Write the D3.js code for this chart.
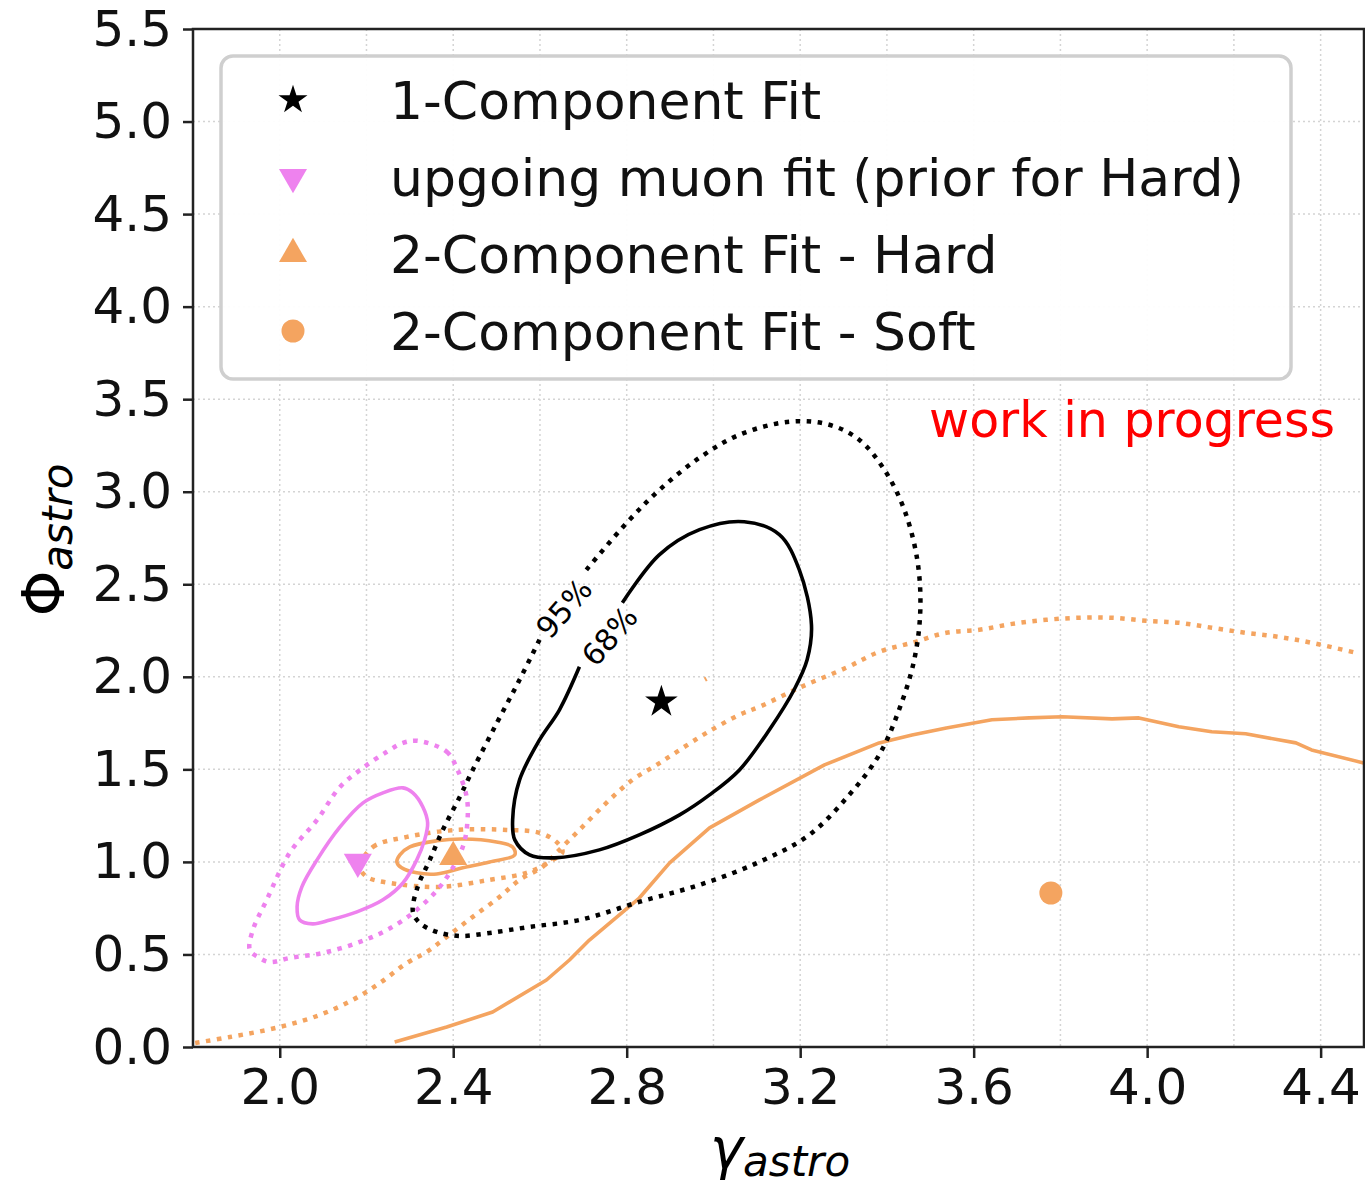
<!DOCTYPE html>
<html>
<head>
<meta charset="utf-8">
<script src="https://cdn.jsdelivr.net/npm/d3@7"></script>
<style>
  body { margin: 0; background: #fff; }
  text { font-family: "DejaVu Sans", sans-serif; }
</style>
</head>
<body>
<div id="chart-area"></div>
<script>
// ---- data ----
var xTicks = [2.0, 2.4, 2.8, 3.2, 3.6, 4.0, 4.4];
var yTicks = [0.0, 0.5, 1.0, 1.5, 2.0, 2.5, 3.0, 3.5, 4.0, 4.5, 5.0, 5.5];
var xGrid = [2.0, 2.2, 2.4, 2.6, 2.8, 3.0, 3.2, 3.4, 3.6, 3.8, 4.0, 4.2, 4.4];

// best fit points
var oneCompFit = [2.88, 1.865];
var upgoingFit = [2.18, 1.0];
var hardFit = [2.40, 1.027];
var softFit = [3.778, 0.832];

// 1-component contours (68% has a gap for its label, 95% too)
var one68 = [[2.790,2.40],[2.875,2.659],[2.968,2.795],[3.071,2.838],[3.152,2.768],[3.198,2.578],[3.226,2.281],
  [3.216,2.092],[3.186,1.930],[3.129,1.714],[3.060,1.497],[2.991,1.362],[2.922,1.254],[2.829,1.146],[2.737,1.065],
  [2.634,1.022],[2.576,1.038],[2.542,1.119],[2.537,1.227],[2.553,1.443],[2.599,1.659],[2.645,1.822],[2.691,2.054]];
var one95 = [[2.707,2.578],[2.800,2.832],[2.876,3.011],[2.968,3.184],[3.060,3.308],[3.175,3.378],[3.267,3.362],
  [3.336,3.281],[3.394,3.119],[3.440,2.903],[3.470,2.632],[3.477,2.362],[3.463,2.092],[3.428,1.822],[3.382,1.578],
  [3.313,1.362],[3.221,1.146],[3.106,1.0],[2.968,0.876],[2.829,0.784],[2.691,0.686],[2.576,0.649],[2.484,0.616],
  [2.415,0.600],[2.362,0.622],[2.323,0.670],[2.307,0.730],[2.318,0.865],[2.346,1.011],[2.376,1.173],[2.415,1.351],
  [2.445,1.497],[2.502,1.757],[2.553,1.984],[2.599,2.200]];

// upgoing muon contours
var up68 = [[2.284,1.400],[2.307,1.373],[2.330,1.297],[2.341,1.211],[2.334,1.119],[2.316,1.011],[2.284,0.886],
  [2.238,0.795],[2.178,0.730],[2.116,0.686],[2.076,0.665],[2.046,0.686],[2.040,0.757],[2.051,0.865],[2.086,1.011],
  [2.139,1.189],[2.192,1.319],[2.238,1.373]];
var up95 = [[2.318,1.654],[2.385,1.595],[2.410,1.497],[2.431,1.351],[2.433,1.227],[2.422,1.081],[2.376,0.886],
  [2.316,0.741],[2.247,0.632],[2.178,0.562],[2.099,0.508],[2.023,0.481],[1.977,0.459],[1.950,0.486],[1.931,0.524],
  [1.938,0.632],[1.970,0.795],[2.023,1.049],[2.086,1.227],[2.139,1.405],[2.192,1.508],[2.247,1.595],[2.284,1.643]];

// 2-component hard contours
var hard68 = [[2.277,1.038],[2.300,1.081],[2.362,1.114],[2.422,1.124],[2.500,1.108],[2.537,1.081],[2.542,1.038],
  [2.484,1.0],[2.422,0.968],[2.362,0.935],[2.316,0.941],[2.281,0.968],[2.270,1.0]];
var hard95 = [[2.185,0.973],[2.215,1.081],[2.293,1.135],[2.408,1.173],[2.523,1.173],[2.599,1.157],[2.638,1.108],
  [2.652,1.054],[2.622,1.0],[2.569,0.941],[2.484,0.903],[2.369,0.865],[2.254,0.886],[2.201,0.919]];

// 2-component soft contours (open, leave the frame)
var soft68 = [[2.265,0.027],[2.385,0.108],[2.491,0.189],[2.615,0.362],[2.668,0.470],[2.714,0.578],[2.829,0.805],
  [2.899,0.995],[2.991,1.184],[3.106,1.335],[3.256,1.524],[3.382,1.643],[3.458,1.686],[3.537,1.724],[3.642,1.768],
  [3.728,1.778],[3.804,1.784],[3.919,1.773],[3.981,1.778],[4.073,1.730],[4.149,1.703],[4.227,1.692],[4.343,1.643],
  [4.379,1.605],[4.499,1.535]];
var soft95 = [[1.805,0.022],[1.885,0.054],[2.000,0.108],[2.092,0.173],[2.168,0.254],[2.231,0.346],[2.293,0.454],
  [2.339,0.514],[2.385,0.595],[2.445,0.703],[2.507,0.811],[2.553,0.903],[2.606,0.973],[2.638,1.049],[2.691,1.173],
  [2.753,1.319],[2.813,1.443],[2.869,1.524],[2.922,1.605],[2.984,1.697],[3.060,1.795],[3.106,1.838],[3.198,1.941],
  [3.306,2.049],[3.382,2.135],[3.458,2.184],[3.537,2.238],[3.613,2.254],[3.689,2.286],[3.767,2.308],[3.843,2.319],
  [3.919,2.319],[3.997,2.303],[4.073,2.292],[4.149,2.265],[4.227,2.238],[4.303,2.216],[4.379,2.184],[4.481,2.130]];
var soft95Bit = [[2.980,1.985],[2.984,1.990]];

var legendLabels = ["1-Component Fit", "upgoing muon fit (prior for Hard)", "2-Component Fit - Hard", "2-Component Fit - Soft"];

// ---- layout ----
var black = "#000", violet = "#ee82ee", sandy = "#f4a460";
var margin = {left: 193, right: 1, top: 29, bottom: 142};
var W = 1365, H = 1189;
var width = W - margin.left - margin.right;
var height = H - margin.top - margin.bottom;

var svg = d3.select("#chart-area").append("svg")
    .attr("width", W)
    .attr("height", H);

var g = svg.append("g")
    .attr("transform", "translate(" + margin.left + "," + margin.top + ")");

var x = d3.scaleLinear().domain([1.8, 4.5]).range([0, width]);
var y = d3.scaleLinear().domain([0, 5.5]).range([height, 0]);

g.append("defs").append("clipPath").attr("id", "clip")
    .append("rect").attr("width", width).attr("height", height);

// grid
g.append("g").selectAll("line").data(xGrid).enter().append("line")
    .attr("x1", function(d) { return x(d); }).attr("x2", function(d) { return x(d); })
    .attr("y1", 0).attr("y2", height)
    .attr("stroke", "#d4d4d4").attr("stroke-width", 1.5).attr("stroke-dasharray", "2,3");
g.append("g").selectAll("line").data(yTicks).enter().append("line")
    .attr("y1", function(d) { return y(d); }).attr("y2", function(d) { return y(d); })
    .attr("x1", 0).attr("x2", width)
    .attr("stroke", "#d4d4d4").attr("stroke-width", 1.5).attr("stroke-dasharray", "2,3");

// contours
var line = d3.line().x(function(d) { return x(d[0]); }).y(function(d) { return y(d[1]); })
    .curve(d3.curveCatmullRom.alpha(0.5));
var lineClosed = d3.line().x(function(d) { return x(d[0]); }).y(function(d) { return y(d[1]); })
    .curve(d3.curveCatmullRomClosed.alpha(0.5));

var plot = g.append("g").attr("clip-path", "url(#clip)");

function contour(data, gen, colour, dotted) {
    plot.append("path")
        .attr("d", gen(data))
        .attr("fill", "none")
        .attr("stroke", colour)
        .attr("stroke-width", dotted ? 4.5 : 3.6)
        .attr("stroke-dasharray", dotted ? "4.5,6.5" : null)
        .attr("stroke-linejoin", "round");
}

contour(soft95, line, sandy, true);
contour(soft95Bit, line, sandy, true);
contour(soft68, d3.line().x(function(d) { return x(d[0]); }).y(function(d) { return y(d[1]); }), sandy, false);
contour(hard95, lineClosed, sandy, true);
contour(hard68, lineClosed, sandy, false);
contour(up95, lineClosed, violet, true);
contour(up68, lineClosed, violet, false);
contour(one95, line, black, true);
contour(one68, line, black, false);

// contour labels
var clabels = [
    {text: "95%", xv: 2.655, yv: 2.37},
    {text: "68%", xv: 2.76, yv: 2.22}
];
g.selectAll(".clabel").data(clabels).enter().append("text")
    .attr("class", "clabel")
    .attr("transform", function(d) { return "translate(" + x(d.xv) + "," + y(d.yv) + ") rotate(-49)"; })
    .attr("text-anchor", "middle")
    .attr("dy", "0.36em")
    .attr("font-size", "30px")
    .text(function(d) { return d.text; });

// markers
var star = d3.symbol().type(d3.symbolStar).size(330);
var tri = d3.symbol().type(d3.symbolTriangle).size(340);

plot.append("path").attr("d", star())
    .attr("transform", "translate(" + x(oneCompFit[0]) + "," + y(oneCompFit[1]) + ")").attr("fill", black);
plot.append("path").attr("d", tri())
    .attr("transform", "translate(" + x(upgoingFit[0]) + "," + y(upgoingFit[1]) + ") rotate(180)").attr("fill", violet);
plot.append("path").attr("d", tri())
    .attr("transform", "translate(" + x(hardFit[0]) + "," + y(hardFit[1]) + ")").attr("fill", sandy);
plot.append("circle")
    .attr("cx", x(softFit[0])).attr("cy", y(softFit[1])).attr("r", 11.5).attr("fill", sandy);

// axes
var xAxisCall = d3.axisBottom(x).tickValues(xTicks).tickFormat(d3.format(".1f")).tickSize(11).tickPadding(10);
var xAxis = g.append("g").attr("transform", "translate(0," + height + ")").call(xAxisCall);
var yAxisCall = d3.axisLeft(y).tickValues(yTicks).tickFormat(d3.format(".1f")).tickSize(10).tickPadding(11);
var yAxis = g.append("g").call(yAxisCall);

[xAxis, yAxis].forEach(function(a) {
    a.select(".domain").remove();
    a.selectAll(".tick line").attr("stroke", "#222").attr("stroke-width", 2.5);
    a.selectAll(".tick text").attr("font-size", "50px").attr("fill", "#111")
        .style("font-family", "'DejaVu Sans', sans-serif");
});

// frame
g.append("rect")
    .attr("width", width).attr("height", height)
    .attr("fill", "none").attr("stroke", "#222").attr("stroke-width", 2.5);

// axis labels
var xl = svg.append("text")
    .attr("x", 780).attr("y", 1168)
    .attr("text-anchor", "middle");
xl.append("tspan").attr("font-size", "56px").attr("font-style", "italic").text("γ");
xl.append("tspan").attr("font-size", "42px").attr("font-style", "italic").attr("dy", 8).text("astro");

var yl = svg.append("text")
    .attr("transform", "translate(64,540) rotate(-90)")
    .attr("text-anchor", "middle");
yl.append("tspan").attr("font-size", "58px").text("Φ");
yl.append("tspan").attr("font-size", "42px").attr("font-style", "italic").attr("dy", 8).text("astro");

// work in progress
svg.append("text")
    .attr("x", 1335).attr("y", 437)
    .attr("text-anchor", "end")
    .attr("font-size", "49px")
    .attr("fill", "#ff0000")
    .text("work in progress");

// legend
var legend = svg.append("g").attr("class", "legend");
legend.append("rect")
    .attr("x", 221).attr("y", 56).attr("width", 1070).attr("height", 323)
    .attr("rx", 12).attr("ry", 12)
    .attr("fill", "#fff").attr("fill-opacity", 0.95)
    .attr("stroke", "#cfcfcf").attr("stroke-width", 3.5);

var markerFns = [
    function(sel) { sel.append("path").attr("d", d3.symbol().type(d3.symbolStar).size(260)()).attr("fill", black); },
    function(sel) { sel.append("path").attr("d", tri()).attr("transform", "rotate(180)").attr("fill", violet); },
    function(sel) { sel.append("path").attr("d", tri()).attr("fill", sandy); },
    function(sel) { sel.append("circle").attr("r", 11.5).attr("fill", sandy); }
];

legendLabels.forEach(function(label, i) {
    var row = legend.append("g")
        .attr("transform", "translate(0," + (100 + i * 77) + ")");
    var m = row.append("g").attr("transform", "translate(293,0)");
    markerFns[i](m);
    row.append("text")
        .attr("x", 390)
        .attr("y", 0)
        .attr("dy", "0.36em")
        .attr("font-size", "52px")
        .attr("fill", "#111")
        .text(label);
});
</script>
</body>
</html>
